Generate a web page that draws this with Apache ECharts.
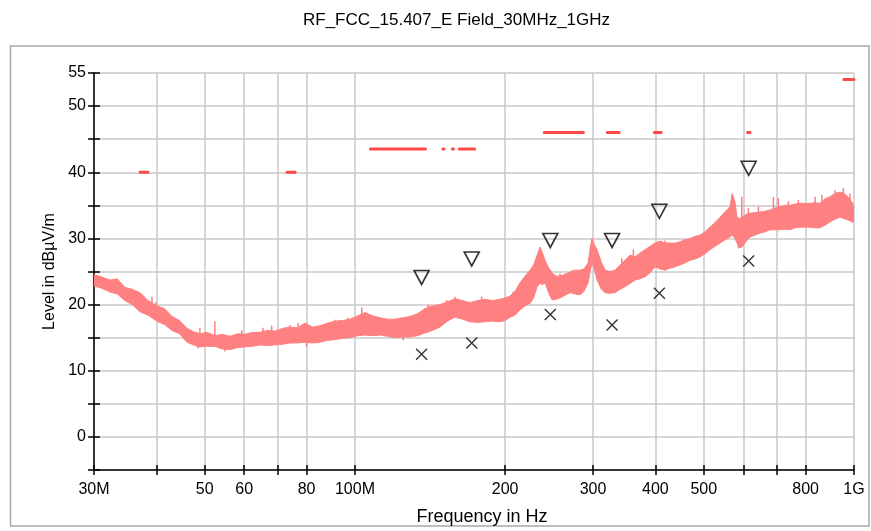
<!DOCTYPE html>
<html>
<head>
<meta charset="utf-8">
<script src="https://cdn.jsdelivr.net/npm/echarts@6/dist/echarts.min.js"></script>
<style>
html,body{margin:0;padding:0;background:#fff;}
#chart{width:871px;height:531px;}
</style>
</head>
<body>
<div id="chart"></div>
<script>
// ---- data (frequencies in MHz, levels in dBµV/m) ----
const traceFreq = [30.0,31.0,32.3,33.4,34.6,35.8,37.1,38.5,40.1,41.5,43.0,44.5,46.1,47.5,48.9,50.6,52.4,54.2,56.2,58.2,60.2,62.3,64.5,66.8,69.1,71.6,74.1,76.7,79.4,82.2,85.1,88.1,91.2,94.4,97.8,101.3,104.8,108.5,112.3,116.2,120.3,124.5,128.9,133.4,138.1,143.0,148.0,153.2,158.6,164.2,170.0,176.0,182.2,188.6,195.2,200.0,204.6,209.3,214.2,219.2,224.3,228.0,231.7,234.9,237.6,240.4,244.3,248.3,252.9,257.6,263.6,269.8,276.1,282.5,287.8,293.2,296.0,298.6,302.0,305.6,311.3,317.1,324.5,332.0,339.8,347.7,355.8,364.1,372.6,381.3,390.2,399.3,408.6,418.1,427.9,437.9,448.1,458.5,469.2,480.2,491.4,502.9,514.6,526.6,538.9,551.5,564.3,570.0,577.5,582.8,590.0,596.4,607.0,618.8,633.0,648.3,663.0,678.9,694.0,710.9,727.5,744.5,761.8,779.6,797.7,816.4,835.4,854.9,875.0,895.3,916.2,937.6,955.0,973.0,990.0,1000.0];
const traceLo = [22.8,22.5,21.9,21.6,20.6,20.0,18.9,18.4,17.5,17.0,16.1,15.6,14.3,13.9,13.6,13.7,13.7,13.3,13.2,13.5,13.6,13.7,13.9,13.8,13.9,14.0,14.2,14.2,14.3,14.2,14.3,14.6,14.7,14.9,15.0,15.3,15.4,15.3,15.4,15.2,15.0,15.1,15.1,15.3,15.7,16.1,16.6,17.5,18.1,17.8,17.4,17.3,17.4,17.5,17.4,17.6,18.1,18.4,19.2,19.8,20.2,21.0,22.7,23.2,23.0,23.3,21.8,20.7,20.8,21.0,21.4,21.8,21.6,21.5,22.0,23.3,25.0,26.3,25.2,23.7,22.4,21.8,21.7,21.8,22.3,22.7,23.2,23.7,23.9,24.2,24.8,25.7,25.4,25.2,25.5,25.7,26.0,26.3,26.7,26.9,27.2,27.7,28.3,28.8,29.3,29.8,30.2,30.5,30.0,29.3,28.6,28.7,29.5,30.2,30.5,30.8,31.0,31.3,31.3,31.3,31.4,31.3,31.6,31.7,31.7,31.7,31.6,31.6,32.0,32.5,32.9,33.2,33.0,32.8,32.5,32.5];
const traceHi = [24.5,24.2,23.7,23.9,22.6,22.3,21.8,20.6,19.8,19.4,18.2,17.6,16.4,15.9,15.6,15.8,15.3,15.5,15.2,15.6,15.5,15.8,15.8,16.1,16.0,16.4,16.6,16.5,17.2,16.6,16.8,17.2,17.5,17.6,17.8,18.3,18.8,18.3,18.0,17.8,17.8,18.0,18.2,18.6,19.4,19.8,20.0,20.4,20.9,20.6,20.3,20.6,20.8,20.6,20.8,21.0,21.3,22.0,23.3,24.3,25.2,26.0,27.4,28.7,27.8,26.7,25.6,24.8,24.3,24.3,24.6,24.9,25.2,25.2,25.4,26.3,28.5,30.0,29.0,28.3,26.5,25.2,25.0,25.2,26.0,26.7,27.5,27.2,27.8,28.3,28.8,29.3,29.6,29.3,29.3,29.3,29.5,29.8,30.0,30.3,30.5,31.0,31.7,32.4,33.2,34.0,34.8,36.8,35.5,33.2,33.0,33.2,33.6,33.8,33.9,34.0,34.1,34.3,34.6,34.8,35.0,35.0,35.2,35.3,35.3,35.3,35.4,35.3,36.0,36.3,36.8,37.0,36.8,36.3,35.5,34.8];

// individual noise spikes of the trace: frequency, level where the spike leaves the band, spike tip level
const spikeFreq = [39.2,39.9,48.5,48.9,52.4,54.9,59.3,65.4,68.1,74.1,76.9,80.0,91.2,96.9,103.2,112.3,125.0,135.0,140.3,144.7,152.7,158.6,179.4,189.5,207.7,217.5,229.6,257.6,271.9,282.5,342.5,361.3,378.3,418.1,434.5,454.9,473.0,586.3,595.8,614.2,643.3,689.3,705.3,738.6,773.5,835.9,862.1,916.4,952.1,982.0];
const spikeBase = [19.5,19.3,14.5,15.2,15.0,14.0,15.2,15.5,15.8,16.2,16.2,15.0,17.0,17.2,17.8,17.5,15.8,18.0,19.0,19.2,19.8,20.4,20.2,20.2,21.2,22.5,24.5,23.8,24.4,24.5,26.0,26.8,27.3,28.8,28.8,29.2,29.5,30.0,33.0,33.2,33.8,34.3,34.5,34.8,35.0,35.0,35.2,36.5,36.6,35.8];
const spikeTip  = [21.2,20.4,13.4,16.5,17.5,12.9,16.1,16.5,16.8,16.9,17.2,13.6,17.7,18.0,19.6,18.0,14.6,18.9,20.0,19.8,20.7,21.2,21.2,20.7,22.0,23.7,25.7,24.7,25.2,25.0,27.0,28.3,27.8,29.7,29.0,29.7,29.7,28.5,36.3,34.6,34.8,36.3,36.1,35.6,35.8,36.3,36.6,37.3,37.6,36.8];

// peak (triangle) and average (cross) markers
const markFreq = [136.0, 171.4, 246.3, 327.5, 407.4, 615.1];
const peakLevel = [24.1, 26.9, 29.7, 29.7, 34.1, 40.6];
const avgLevel  = [12.5, 14.2, 18.5, 16.9, 21.7, 26.6];

// limit line fragments
const limitStart = [37.1, 73.1, 107.4, 150.0, 156.8, 161.9, 239.5, 320.4, 398.0, 612.0, 954.0];
const limitEnd   = [38.5, 75.9, 138.5, 150.8, 157.6, 173.7, 286.9, 338.4, 410.7, 619.0, 1000.0];
const limitLevel = [40.0, 40.0, 43.5, 43.5, 43.5, 43.5, 46.0, 46.0, 46.0, 46.0, 54.0];

// axis ticks
const xTickValues  = [30,40,50,60,70,80,100,200,300,400,500,600,700,800,1000];
const xLabelValues = [30,50,60,80,100,200,300,400,500,800,1000];
const xLabelText   = {30:'30M',50:'50',60:'60',80:'80',100:'100M',200:'200',300:'300',400:'400',500:'500',800:'800',1000:'1G'};
const yLabelValues = [0,10,20,30,40,50,55];

// ---- build series ----
const bandData = traceFreq.map((f,i)=>[f, traceLo[i], traceHi[i]]);
const spikeData = spikeFreq.map((f,i)=>[f, spikeBase[i], spikeTip[i]]);
const limitData = [];
limitStart.forEach((s,i)=>{
  limitData.push([s, limitLevel[i]]);
  limitData.push([limitEnd[i], limitLevel[i]]);
  limitData.push([limitEnd[i], null]);
});

const FONT = 'Liberation Sans, Arial, sans-serif';
const traceColor = '#FF8080';

const chart = echarts.init(document.getElementById('chart'), null, {renderer:'canvas'});
const xBase = { type:'log', logBase:10, min:30, max:1000, gridIndex:0 };
const yBase = { type:'value', min:-5, max:55, interval:5, gridIndex:0 };

function renderBand(params, api){
  if (params.dataIndex !== 0) return null;
  const upper = [], lower = [];
  for (let i = 0; i < bandData.length; i++){
    upper.push(api.coord([bandData[i][0], bandData[i][2]]));
    lower.push(api.coord([bandData[i][0], bandData[i][1]]));
  }
  return {
    type:'polygon',
    shape:{points:upper.concat(lower.reverse())},
    style:{fill:traceColor, stroke:traceColor, lineWidth:1}
  };
}
function renderSpike(params, api){
  const p0 = api.coord([api.value(0), api.value(1)]);
  const p1 = api.coord([api.value(0), api.value(2)]);
  return {
    type:'line',
    shape:{x1:p0[0], y1:p0[1], x2:p1[0], y2:p1[1]},
    style:{stroke:traceColor, lineWidth:1.5}
  };
}

chart.setOption({
  animation:false,
  backgroundColor:'#fff',
  title:{
    text:'RF_FCC_15.407_E Field_30MHz_1GHz',
    left:298, top:7,
    textStyle:{fontFamily:FONT, fontSize:17, fontWeight:'normal', color:'#000'}
  },
  graphic:[{
    type:'rect', shape:{x:10.5, y:46, width:858.5, height:480},
    style:{fill:'none', stroke:'#A8A8A8', lineWidth:1.5}, z:-1
  }],
  grid:{left:94, right:17, top:73, bottom:61, containLabel:false},
  xAxis:[
    Object.assign({}, xBase, {
      position:'bottom',
      name:'Frequency in Hz', nameLocation:'middle', nameGap:38,
      nameTextStyle:{fontFamily:FONT, fontSize:18, color:'#000', padding:[0,0,0,16]},
      axisLine:{show:true, onZero:false, lineStyle:{color:'#000', width:1.5}},
      axisTick:{show:true, inside:false, length:5, customValues:xTickValues, lineStyle:{color:'#000', width:1.5}},
      axisLabel:{show:true, margin:12, customValues:xLabelValues, fontFamily:FONT, fontSize:16, color:'#000',
        formatter:(v)=> xLabelText[Math.round(v)] || ''},
      splitLine:{show:true, lineStyle:{color:'#C8C8C8', width:1.5}},
      minorTick:{show:false}, minorSplitLine:{show:false}
    }),
    Object.assign({}, xBase, {
      position:'bottom',
      axisLine:{show:false, onZero:false},
      axisTick:{show:true, inside:true, length:5, customValues:xTickValues, lineStyle:{color:'#000', width:1.5}},
      axisLabel:{show:false},
      splitLine:{show:false}
    })
  ],
  yAxis:[
    Object.assign({}, yBase, {
      position:'left',
      name:'Level in dBµV/m', nameLocation:'middle', nameGap:34,
      nameTextStyle:{fontFamily:FONT, fontSize:16, color:'#000'},
      axisLine:{show:true, onZero:false, lineStyle:{color:'#000', width:1.5}},
      axisTick:{show:true, inside:false, length:6, lineStyle:{color:'#000', width:1.5}},
      axisLabel:{show:true, margin:8, fontFamily:FONT, fontSize:16, color:'#000',
        formatter:(v)=> yLabelValues.indexOf(v) >= 0 ? String(v) : ''},
      splitLine:{show:true, lineStyle:{color:'#C8C8C8', width:1.5}}
    }),
    Object.assign({}, yBase, {
      position:'left',
      axisLine:{show:false, onZero:false},
      axisTick:{show:true, inside:true, length:6, lineStyle:{color:'#000', width:1.5}},
      axisLabel:{show:false},
      splitLine:{show:false}
    })
  ],
  series:[
    {
      type:'custom', name:'trace', data:bandData, renderItem:renderBand,
      encode:{x:0, y:[1,2]}, clip:true, z:2
    },
    {
      type:'custom', name:'spikes', data:spikeData, renderItem:renderSpike,
      encode:{x:0, y:[1,2]}, clip:true, z:2
    },
    {
      type:'line', name:'limit', data:limitData, connectNulls:false, symbol:'none',
      lineStyle:{color:'#FF4848', width:3, cap:'round'}, z:3
    },
    {
      type:'scatter', name:'peak', data:markFreq.map((f,i)=>[f, peakLevel[i]]),
      symbol:'path://M0,0 L16,0 L8,14 Z', symbolSize:[15,14],
      itemStyle:{color:'rgba(0,0,0,0)', borderColor:'#000', borderWidth:1.6}, z:5
    },
    {
      type:'scatter', name:'avg', data:markFreq.map((f,i)=>[f, avgLevel[i]]),
      symbol:'path://M0,0 L10,10 M10,0 L0,10', symbolSize:11,
      itemStyle:{color:'rgba(0,0,0,0)', borderColor:'#000', borderWidth:1.4}, z:5
    }
  ]
});
</script>
</body>
</html>
